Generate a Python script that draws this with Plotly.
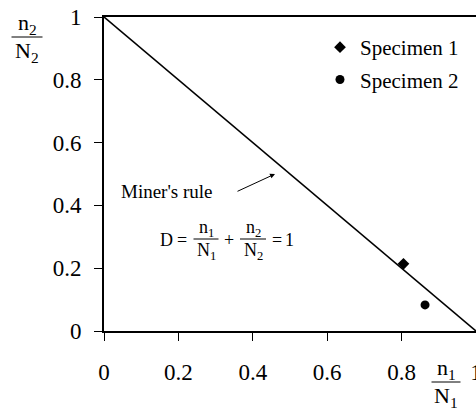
import plotly.graph_objects as go

# data
miner_x = [0, 1]
miner_y = [1, 0]
spec1_x = [0.805]
spec1_y = [0.214]
spec2_x = [0.863]
spec2_y = [0.083]
tick_vals = [0, 0.2, 0.4, 0.6, 0.8, 1]
tick_text = ["0", "0.2", "0.4", "0.6", "0.8", "1"]

W, H = 476, 412
L, R, T, B = 104, 0, 17, 81
FONT = "Liberation Serif, DejaVu Serif, serif"


def px(x, y):
    """pixel position -> paper coords"""
    return (x - L) / (W - L - R), (H - B - y) / (H - T - B)


fig = go.Figure()

fig.add_trace(go.Scatter(
    x=miner_x, y=miner_y, mode="lines",
    line=dict(color="black", width=1.6), showlegend=False,
))
fig.add_trace(go.Scatter(
    x=spec1_x, y=spec1_y, mode="markers", name="Specimen 1",
    marker=dict(symbol="diamond", size=9, color="black"),
    legendgroup="a",
))
fig.add_trace(go.Scatter(
    x=spec2_x, y=spec2_y, mode="markers", name="Specimen 2",
    marker=dict(symbol="circle", size=9, color="black"),
    legendgroup="b",
))

annotations = []
shapes = []


def txt(x, y, s, size=18):
    xp, yp = px(x, y)
    annotations.append(dict(
        x=xp, y=yp, xref="paper", yref="paper", text=s, showarrow=False,
        font=dict(family=FONT, size=size, color="black"),
        xanchor="center", yanchor="middle",
    ))


def bar(x0, x1, y):
    a = px(x0, y)
    b = px(x1, y)
    shapes.append(dict(
        type="line", xref="paper", yref="paper",
        x0=a[0], y0=a[1], x1=b[0], y1=b[1],
        line=dict(color="black", width=1),
    ))


def frac(cx, cy, num, den, half, size=18, dy=12):
    txt(cx, cy - dy, num, size)
    bar(cx - half, cx + half, cy)
    txt(cx, cy + dy + 2, den, size)


# axis title fractions
frac(27, 37, "n<sub>2</sub>", "N<sub>2</sub>", 15.5, size=22, dy=13)
frac(446, 382, "n<sub>1</sub>", "N<sub>1</sub>", 14.5, size=22, dy=13)

# formula
txt(166, 240, "D", 18)
txt(182, 240, "=", 18)
frac(206, 239, "n<sub>1</sub>", "N<sub>1</sub>", 12.5, size=18, dy=11)
txt(229, 240, "+", 18)
frac(253, 239, "n<sub>2</sub>", "N<sub>2</sub>", 13, size=18, dy=11)
txt(277, 240, "=", 18)
txt(289, 240, "1", 18)

# Miner's rule label with arrow
ax1, ay1 = px(275, 174)
annotations.append(dict(
    x=ax1, y=ay1, xref="paper", yref="paper",
    ax=-39, ay=18, text="", showarrow=True, arrowhead=2, arrowsize=1,
    arrowwidth=1, arrowcolor="black",
))
mx, my = px(119, 191)
annotations.append(dict(
    x=mx, y=my, xref="paper", yref="paper", text="Miner's rule",
    showarrow=False, xanchor="left", yanchor="middle",
    font=dict(family=FONT, size=19, color="black"),
))

lx, ly = px(320, 27)
fig.update_layout(
    width=W, height=H,
    margin=dict(l=L, r=R, t=T, b=B, pad=0, autoexpand=False),
    paper_bgcolor="white", plot_bgcolor="white",
    font=dict(family=FONT, size=23, color="black"),
    showlegend=True,
    legend=dict(
        x=lx, y=ly, xanchor="left", yanchor="top",
        font=dict(family=FONT, size=21, color="black"),
        bgcolor="rgba(0,0,0,0)", traceorder="grouped", tracegroupgap=2,
    ),
    xaxis=dict(
        range=[0, 1], tickvals=tick_vals, ticktext=tick_text,
        showgrid=False, zeroline=False, automargin=False,
        showline=True, linecolor="black", linewidth=1.6, mirror=True,
        ticks="outside", ticklen=8, tickcolor="black", tickwidth=1,
        ticklabelstandoff=12, ticklabeloverflow="allow",
        tickfont=dict(family=FONT, size=23, color="black"),
    ),
    yaxis=dict(
        range=[0, 1], tickvals=tick_vals, ticktext=tick_text,
        showgrid=False, zeroline=False, automargin=False,
        showline=True, linecolor="black", linewidth=1.6,
        ticks="outside", ticklen=8, tickcolor="black", tickwidth=1,
        ticklabelstandoff=8,
        tickfont=dict(family=FONT, size=23, color="black"),
    ),
    annotations=annotations,
    shapes=shapes,
)

# the page body has a default 8px margin; drop it so the figure sits at 0,0
fig.write_html(
    "out.html",
    config={"displayModeBar": False},
    post_script="document.body.style.margin='0';",
)
